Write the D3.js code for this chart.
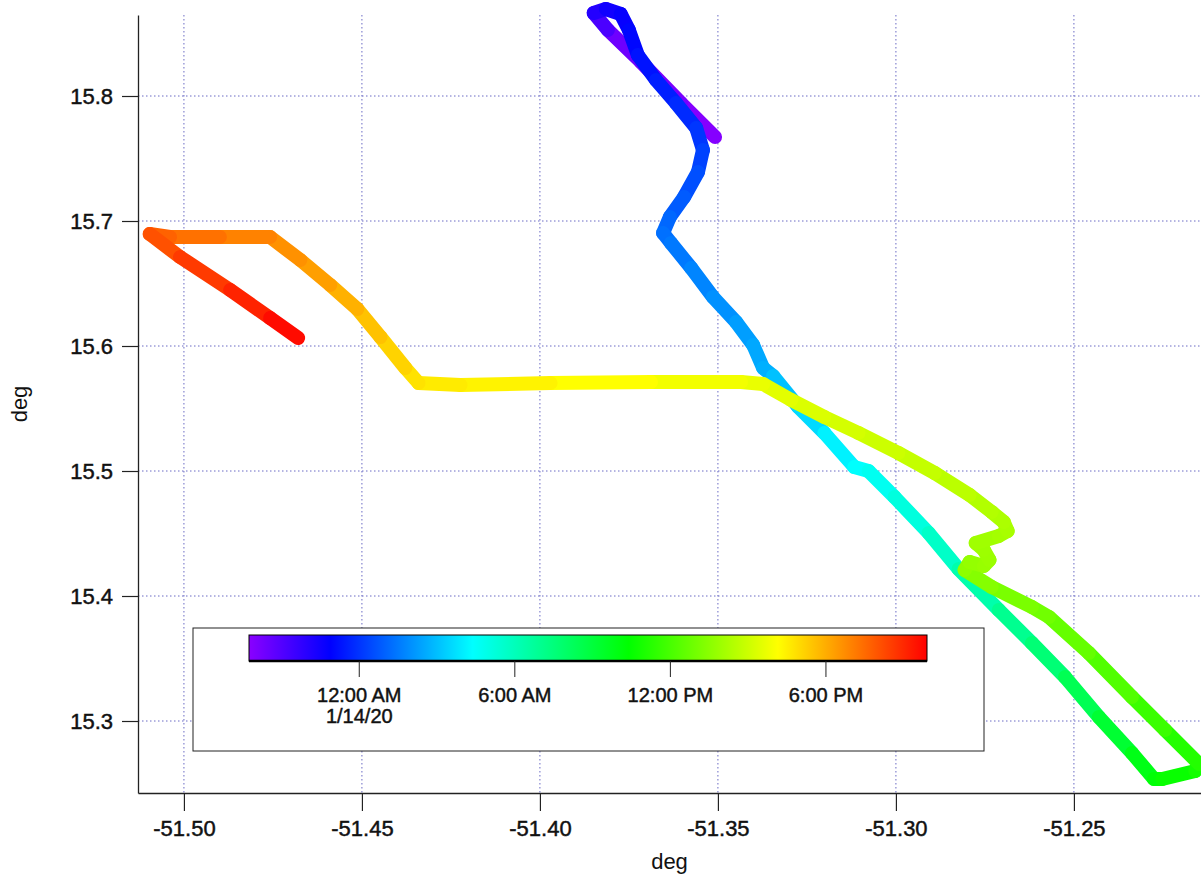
<!DOCTYPE html>
<html>
<head>
<meta charset="utf-8">
<script src="https://cdn.jsdelivr.net/npm/d3@7"></script>
<style>
  body { margin: 0; background: #fff; }
  svg text { font-family: 'Liberation Sans', Arial, sans-serif; fill: #111; }
  .tick text { stroke: #111; stroke-width: 0.45px; }
</style>
</head>
<body>
<svg id="chart" width="1201" height="875"></svg>
<script>
// track (lon/lat in deg, time from the colour)
const lon = [
  -51.3508, -51.3604, -51.3716, -51.3809, -51.3849, -51.3815, -51.3773, -51.3750,
  -51.3725, -51.3674, -51.3618, -51.3561, -51.3542, -51.3556, -51.3595, -51.3635,
  -51.3654, -51.3632, -51.3575, -51.3514, -51.3449, -51.3401, -51.3373, -51.3345,
  -51.3274, -51.3201, -51.3117, -51.3077, -51.3004, -51.2908, -51.2824, -51.2711,
  -51.2618, -51.2525, -51.2430, -51.2337, -51.2275, -51.2252, -51.2159, -51.2148,
  -51.2244, -51.2337, -51.2458, -51.2570, -51.2618, -51.2731, -51.2807, -51.2793,
  -51.2753, -51.2737, -51.2753, -51.2776, -51.2711, -51.2686, -51.2697, -51.2731,
  -51.2793, -51.2891, -51.2993, -51.3105, -51.3201, -51.3294, -51.3373, -51.3435,
  -51.3688, -51.3970, -51.4223, -51.4341, -51.4378, -51.4448, -51.4513, -51.4589,
  -51.4673, -51.4758, -51.4899, -51.5039, -51.5096, -51.5011, -51.4870, -51.4758,
  -51.4679
]
const lat = [
  15.7672, 15.7944, 15.8272, 15.8528, 15.8664, 15.8696, 15.8656, 15.8528,
  15.8328, 15.8128, 15.7944, 15.7744, 15.7568, 15.7392, 15.7192, 15.7032,
  15.6904, 15.6824, 15.6624, 15.6392, 15.6192, 15.6008, 15.5824, 15.5760,
  15.5512, 15.5304, 15.5032, 15.5000, 15.4792, 15.4504, 15.4216, 15.3888,
  15.3624, 15.3352, 15.3032, 15.2744, 15.2536, 15.2536, 15.2600, 15.2656,
  15.2928, 15.3192, 15.3544, 15.3832, 15.3912, 15.4072, 15.4208, 15.4272,
  15.4240, 15.4288, 15.4368, 15.4424, 15.4480, 15.4520, 15.4592, 15.4672,
  15.4808, 15.4984, 15.5144, 15.5304, 15.5432, 15.5568, 15.5696, 15.5712,
  15.5712, 15.5704, 15.5688, 15.5704, 15.5824, 15.6072, 15.6296, 15.6488,
  15.6688, 15.6872, 15.6872, 15.6872, 15.6896, 15.6712, 15.6448, 15.6224,
  15.6064
]
const times = [
  '2020-01-13T19:46', '2020-01-13T20:01', '2020-01-13T20:17', '2020-01-13T20:32',
  '2020-01-13T21:51', '2020-01-13T22:23', '2020-01-13T22:38', '2020-01-13T22:54',
  '2020-01-13T23:10', '2020-01-13T23:25', '2020-01-13T23:41', '2020-01-13T23:57',
  '2020-01-14T00:12', '2020-01-14T00:28', '2020-01-14T00:44', '2020-01-14T00:59',
  '2020-01-14T01:15', '2020-01-14T01:23', '2020-01-14T01:39', '2020-01-14T01:54',
  '2020-01-14T02:10', '2020-01-14T02:26', '2020-01-14T02:37', '2020-01-14T02:46',
  '2020-01-14T03:21', '2020-01-14T03:52', '2020-01-14T04:23', '2020-01-14T04:31',
  '2020-01-14T04:55', '2020-01-14T05:26', '2020-01-14T05:58', '2020-01-14T06:45',
  '2020-01-14T07:16', '2020-01-14T08:03', '2020-01-14T08:50', '2020-01-14T09:37',
  '2020-01-14T10:09', '2020-01-14T10:24', '2020-01-14T10:48', '2020-01-14T10:56',
  '2020-01-14T11:27', '2020-01-14T11:59', '2020-01-14T12:30', '2020-01-14T12:54',
  '2020-01-14T13:02', '2020-01-14T13:17', '2020-01-14T13:33', '2020-01-14T13:41',
  '2020-01-14T13:49', '2020-01-14T13:52', '2020-01-14T13:56', '2020-01-14T13:59',
  '2020-01-14T14:04', '2020-01-14T14:09', '2020-01-14T14:14', '2020-01-14T14:20',
  '2020-01-14T14:31', '2020-01-14T14:44', '2020-01-14T14:55', '2020-01-14T15:07',
  '2020-01-14T15:15', '2020-01-14T15:26', '2020-01-14T15:38', '2020-01-14T15:46',
  '2020-01-14T16:02', '2020-01-14T16:18', '2020-01-14T16:33', '2020-01-14T16:41',
  '2020-01-14T16:57', '2020-01-14T17:21', '2020-01-14T17:44', '2020-01-14T18:08',
  '2020-01-14T18:31', '2020-01-14T18:47', '2020-01-14T19:10', '2020-01-14T19:34',
  '2020-01-14T19:50', '2020-01-14T20:21', '2020-01-14T20:52', '2020-01-14T21:24',
  '2020-01-14T21:55'
]

const xTicks = [-51.50, -51.45, -51.40, -51.35, -51.30, -51.25]
const yTicks = [15.3, 15.4, 15.5, 15.6, 15.7, 15.8]
const timeTicks = ['2020-01-14T00:00', '2020-01-14T06:00', '2020-01-14T12:00', '2020-01-14T18:00']
const colorStops = [0, 0.12, 0.33, 0.56, 0.78, 1]
const colorList = ['#8a00ff', '#0000ff', '#00ffff', '#00ff00', '#ffff00', '#ff0000']

const parseTime = d3.timeParse('%Y-%m-%dT%H:%M')
const data = lon.map((d, i) => ({ lon: d, lat: lat[i], time: parseTime(times[i]) }))

const svg = d3.select('#chart')
const margin = { top: 15, right: 0, bottom: 82, left: 138 }
const W = 1201, H = 875

let x = d3.scaleLinear().domain([-51.5129, -51.2143]).range([margin.left, W - margin.right])
let y = d3.scaleLinear().domain([15.2424, 15.8648]).range([H - margin.bottom, margin.top])

let tExtent = d3.extent(data, (d) => d.time)
let tFrac = d3.scaleTime().domain(tExtent).range([0, 1])
let colorScale = d3.scaleLinear().domain(colorStops).range(colorList).interpolate(d3.interpolateRgb)
const colorOf = (t) => colorScale(tFrac(t))

// grid
let grid = svg.append('g').attr('class', 'grid')
  .attr('stroke', '#6a6ac4').attr('stroke-width', 1).attr('stroke-dasharray', '1.5,2.5')
grid.selectAll('.gx').data(xTicks).enter().append('line')
  .attr('x1', (d) => x(d)).attr('x2', (d) => x(d))
  .attr('y1', margin.top).attr('y2', H - margin.bottom)
grid.selectAll('.gy').data(yTicks).enter().append('line')
  .attr('x1', margin.left).attr('x2', W - margin.right)
  .attr('y1', (d) => y(d)).attr('y2', (d) => y(d))

// legend box with the colour bar
let legend = svg.append('g').attr('class', 'legend')
legend.append('rect')
  .attr('x', 193).attr('y', 628).attr('width', 791).attr('height', 123)
  .attr('fill', '#fff').attr('stroke', '#222').attr('stroke-width', 1)

let defs = svg.append('defs')
let gradient = defs.append('linearGradient').attr('id', 'rainbow')
  .attr('x1', '0%').attr('x2', '100%').attr('y1', '0%').attr('y2', '0%')
colorStops.forEach((s, i) => {
  gradient.append('stop').attr('offset', s * 100 + '%').attr('stop-color', colorList[i])
})

let barScale = d3.scaleTime().domain(tExtent).range([249, 927])
legend.append('rect')
  .attr('x', 249).attr('y', 635).attr('width', 678).attr('height', 26)
  .attr('fill', 'url(#rainbow)').attr('stroke', '#000').attr('stroke-width', 1)
legend.append('line')
  .attr('x1', 249).attr('x2', 927).attr('y1', 661).attr('y2', 661)
  .attr('stroke', '#000').attr('stroke-width', 2.5)

let barAxis = d3.axisBottom(barScale)
  .tickValues(timeTicks.map(parseTime))
  .tickSize(16).tickSizeOuter(0).tickPadding(11)
  .tickFormat(d3.timeFormat('%-I:%M %p'))
let barG = legend.append('g').attr('transform', 'translate(0,661)').call(barAxis)
barG.select('.domain').remove()
barG.selectAll('.tick line').attr('stroke', '#222')
barG.selectAll('text')
  .attr('font-size', 20).attr('font-family', null)
  .each(function (d) {
    if (d.getHours() === 0) {
      let t = d3.select(this)
      let s = t.text()
      t.text(null)
      t.append('tspan').attr('x', 0).text(s)
      t.append('tspan').attr('x', 0).attr('dy', '1.05em').text(d3.timeFormat('%-m/%-d/%y')(d))
    }
  })

// track, one segment per pair of fixes, coloured by time
let segs = data.slice(1).map((d, i) => ({ a: data[i], b: d }))
svg.append('g').attr('class', 'track')
  .selectAll('line').data(segs).enter().append('line')
  .attr('x1', (d) => x(d.a.lon)).attr('y1', (d) => y(d.a.lat))
  .attr('x2', (d) => x(d.b.lon)).attr('y2', (d) => y(d.b.lat))
  .attr('stroke', (d) => colorOf(new Date((+d.a.time + +d.b.time) / 2)))
  .attr('stroke-width', 14)
  .attr('stroke-linecap', 'round')

// axes
let yAxis = d3.axisLeft(y).tickValues(yTicks).tickSize(16).tickSizeOuter(0).tickPadding(9)
  .tickFormat((d) => d.toFixed(1))
let xAxis = d3.axisBottom(x).tickValues(xTicks).tickSize(18).tickSizeOuter(0).tickPadding(9)
  .tickFormat((d) => d.toFixed(2))

let yG = svg.append('g').attr('transform', `translate(${margin.left},0)`).call(yAxis)
let xG = svg.append('g').attr('transform', `translate(0,${H - margin.bottom})`).call(xAxis)
;[xG, yG].forEach((g) => {
  g.select('.domain').attr('stroke', '#222').attr('stroke-width', 1.3)
  g.selectAll('.tick line').attr('stroke', '#222').attr('stroke-width', 1.2)
  g.selectAll('text').attr('font-size', 22).attr('font-family', null)
})

svg.append('text')
  .text('deg')
  .attr('x', (margin.left + W - margin.right) / 2).attr('y', 869)
  .attr('text-anchor', 'middle').attr('font-size', 22)

svg.append('text')
  .text('deg')
  .attr('transform', 'translate(27,404)rotate(-90)')
  .attr('text-anchor', 'middle').attr('font-size', 22)
</script>
</body>
</html>
